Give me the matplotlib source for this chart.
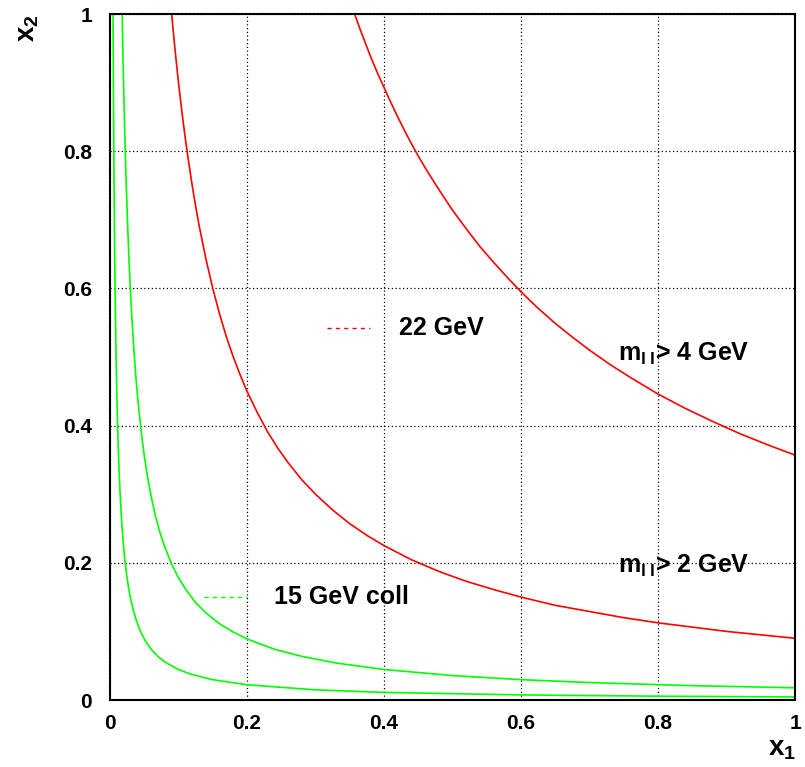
import matplotlib
matplotlib.use("Agg")
import matplotlib.pyplot as plt

plt.rcParams['font.family'] = ['Liberation Sans', 'DejaVu Sans']
plt.rcParams['font.weight'] = 'bold'
plt.rcParams['mathtext.fontset'] = 'custom'
plt.rcParams['mathtext.rm'] = 'Liberation Sans:bold'
plt.rcParams['mathtext.bf'] = 'Liberation Sans:bold'
plt.rcParams['mathtext.it'] = 'Liberation Sans:bold'

# red: 22 GeV, m_ll > 4 GeV
red4_x1 = [0.357, 0.36, 0.365, 0.37, 0.375, 0.38, 0.39, 0.40, 0.41, 0.42, 0.43, 0.44, 0.45,
           0.46, 0.475, 0.49, 0.5, 0.52, 0.54, 0.56, 0.58, 0.6, 0.625, 0.65, 0.675, 0.7,
           0.73, 0.76, 0.8, 0.84, 0.88, 0.92, 0.96, 1.0]
red4_x2 = [1.000, 0.992, 0.978, 0.965, 0.952, 0.939, 0.915, 0.893, 0.871, 0.850, 0.830, 0.811,
           0.793, 0.776, 0.752, 0.729, 0.714, 0.687, 0.661, 0.638, 0.616, 0.595, 0.571, 0.549,
           0.529, 0.510, 0.489, 0.470, 0.446, 0.425, 0.406, 0.388, 0.372, 0.357]
# red: 22 GeV, m_ll > 2 GeV
red2_x1 = [0.09, 0.093, 0.096, 0.1, 0.105, 0.11, 0.115, 0.12, 0.125, 0.13, 0.14, 0.15, 0.16,
           0.17, 0.18, 0.19, 0.2, 0.215, 0.23, 0.245, 0.26, 0.28, 0.3, 0.325, 0.35, 0.375,
           0.4, 0.44, 0.48, 0.52, 0.56, 0.6, 0.65, 0.7, 0.75, 0.8, 0.9, 1.0]
red2_x2 = [1.0, 0.968, 0.9375, 0.9, 0.857, 0.818, 0.783, 0.75, 0.72, 0.692, 0.643, 0.6, 0.5625,
           0.529, 0.5, 0.474, 0.45, 0.419, 0.391, 0.367, 0.346, 0.321, 0.3, 0.277, 0.257, 0.24,
           0.225, 0.2045, 0.1875, 0.173, 0.161, 0.15, 0.138, 0.129, 0.12, 0.1125, 0.1, 0.09]
# green: 15 GeV coll, m_ll > 4 GeV
grn4_x1 = [0.0178, 0.0185, 0.019, 0.02, 0.021, 0.022, 0.023, 0.024, 0.026, 0.028, 0.03, 0.032,
           0.035, 0.038, 0.041, 0.045, 0.05, 0.055, 0.06, 0.066, 0.072, 0.08, 0.09, 0.1, 0.11,
           0.125, 0.14, 0.16, 0.18, 0.2, 0.24, 0.28, 0.33, 0.4, 0.5, 0.6, 0.7, 0.85, 1.0]
grn4_x2 = [1.0, 0.962, 0.937, 0.89, 0.848, 0.809, 0.774, 0.742, 0.685, 0.636, 0.593, 0.556,
           0.509, 0.468, 0.434, 0.396, 0.356, 0.324, 0.297, 0.270, 0.247, 0.223, 0.198, 0.178,
           0.162, 0.142, 0.127, 0.111, 0.099, 0.089, 0.074, 0.0636, 0.0539, 0.0445, 0.0356,
           0.0297, 0.0254, 0.0209, 0.0178]
# green: 15 GeV coll, m_ll > 2 GeV
grn2_x1 = [0.00444, 0.0046, 0.0048, 0.005, 0.0053, 0.0056, 0.006, 0.0065, 0.007, 0.0075, 0.008,
           0.009, 0.01, 0.011, 0.012, 0.0135, 0.015, 0.017, 0.019, 0.021, 0.024, 0.027, 0.03,
           0.034, 0.039, 0.045, 0.052, 0.06, 0.07, 0.08, 0.1, 0.12, 0.15, 0.2, 0.3, 0.4, 0.6,
           0.8, 1.0]
grn2_x2 = [1.0, 0.965, 0.925, 0.888, 0.838, 0.793, 0.74, 0.683, 0.634, 0.592, 0.555, 0.493,
           0.444, 0.404, 0.37, 0.329, 0.296, 0.261, 0.234, 0.211, 0.185, 0.164, 0.148, 0.131,
           0.114, 0.0987, 0.0854, 0.074, 0.0634, 0.0555, 0.0444, 0.037, 0.0296, 0.0222, 0.0148,
           0.0111, 0.0074, 0.00555, 0.00444]

ticks = [0, 0.2, 0.4, 0.6, 0.8, 1]
tick_labels = ["0", "0.2", "0.4", "0.6", "0.8", "1"]

RED = "#ff0000"
GREEN = "#00ff00"

fig = plt.figure(figsize=(8.05, 7.67), dpi=100)
ax = fig.add_axes([110/805, 67/767, 685/805, 686/767])

ax.plot(red4_x1, red4_x2, color=RED, lw=1.2)
ax.plot(red2_x1, red2_x2, color=RED, lw=1.2)
ax.plot(grn4_x1, grn4_x2, color=GREEN, lw=1.2)
ax.plot(grn2_x1, grn2_x2, color=GREEN, lw=1.2)

ax.set_xlim(0, 1)
ax.set_ylim(0, 1)
ax.set_xticks(ticks)
ax.set_xticklabels(tick_labels)
ax.set_yticks(ticks)
ax.set_yticklabels(tick_labels)
ax.tick_params(axis='both', length=0, labelsize=15)
ax.tick_params(axis='x', pad=10)
ax.tick_params(axis='y', pad=13)
ax.grid(True, color='black', linestyle=(0, (1, 2)), linewidth=0.9)
for s in ax.spines.values():
    s.set_linewidth(1.5)
    s.set_color('black')

# legend-like entries
ax.plot([0.317, 0.38], [0.542, 0.542], color=RED, lw=1.0, ls=(0, (3, 3)))
ax.text(0.422, 0.542, "22 GeV", fontsize=18, fontweight='bold', va='center', ha='left')
ax.plot([0.137, 0.2], [0.15, 0.15], color=GREEN, lw=1.0, ls=(0, (3, 3)))
ax.text(0.24, 0.15, "15 GeV coll", fontsize=18, fontweight='bold', va='center', ha='left')

ax.text(0.742, 0.505, r"$\mathbf{m_{l\;l}}$> 4 GeV", fontsize=18, va='center', ha='left')
ax.text(0.742, 0.195, r"$\mathbf{m_{l\;l}}$> 2 GeV", fontsize=18, va='center', ha='left')

fig.text(796/805, (767-755)/767, r"$\mathbf{x_1}$", fontsize=20, ha='right', va='baseline')
ax.text(-0.12, 1.0, r"$\mathbf{x_2}$", fontsize=20, ha='center', va='top', rotation=90,
        transform=ax.transAxes)

fig.savefig("out.png", dpi=100)
